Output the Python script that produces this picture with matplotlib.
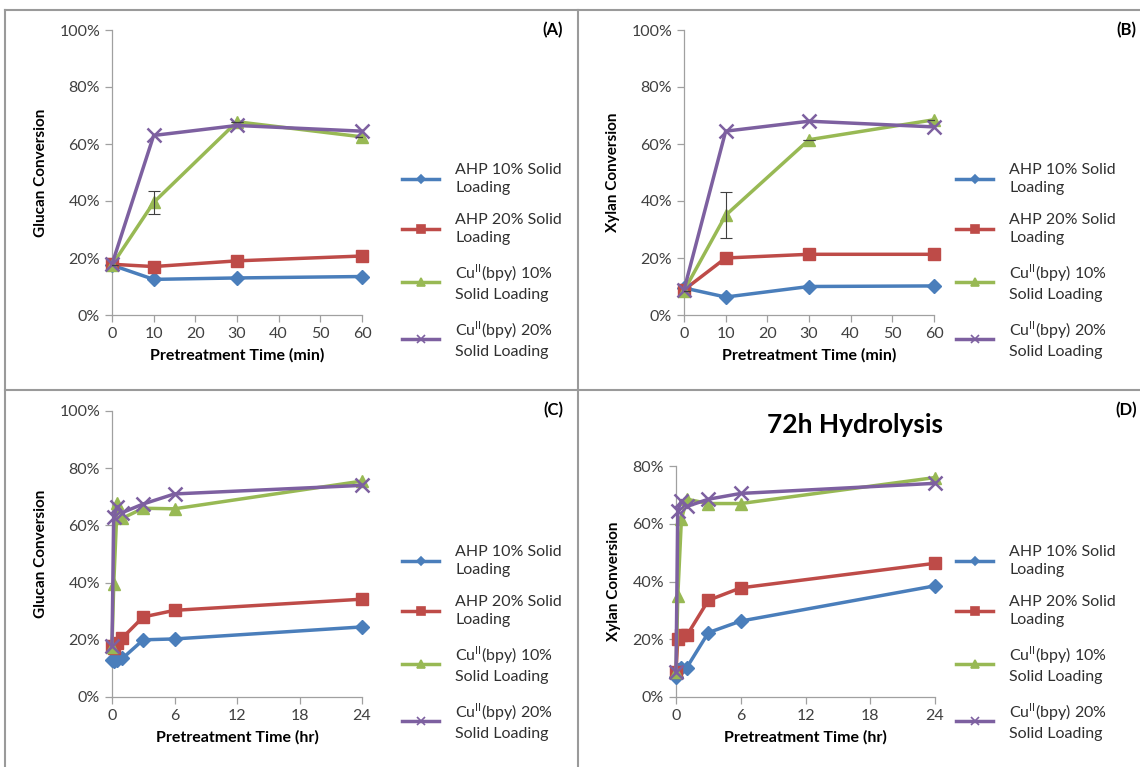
import matplotlib
matplotlib.use("Agg")
import matplotlib.pyplot as plt
from matplotlib.lines import Line2D
from matplotlib.ticker import PercentFormatter

plt.rcParams['font.family'] = ['Lato', 'DejaVu Sans']

# ---------------- data ----------------
t_min = [0, 10, 30, 60]
t_hr = [0, 1/6, 0.5, 1, 3, 6, 24]

series_names = ["AHP 10% Solid\nLoading",
                "AHP 20% Solid\nLoading",
                "Cu$^{\\mathregular{II}}$(bpy) 10%\nSolid Loading",
                "Cu$^{\\mathregular{II}}$(bpy) 20%\nSolid Loading"]

# (A) glucan, min
glucan_min_ahp10 = [17.5, 12.5, 13.0, 13.5]
glucan_min_ahp20 = [17.8, 17.0, 19.0, 20.7]
glucan_min_cu10 = [17.5, 39.5, 67.8, 62.5]
glucan_min_cu20 = [17.8, 63.0, 66.5, 64.5]
glucan_min_cu10_err = [0, 4.0, 0, 0]

# (B) xylan, min
xylan_min_ahp10 = [9.5, 6.3, 10.0, 10.2]
xylan_min_ahp20 = [8.8, 20.0, 21.3, 21.3]
xylan_min_cu10 = [8.5, 35.0, 61.5, 68.5]
xylan_min_cu20 = [8.8, 64.5, 68.0, 66.0]
xylan_min_cu10_err = [0, 8.0, 0, 0]

# (C) glucan, hr
glucan_hr_ahp10 = [13.0, 12.5, 13.0, 13.5, 20.0, 20.3, 24.5]
glucan_hr_ahp20 = [17.8, 17.0, 19.0, 20.7, 28.0, 30.3, 34.2]
glucan_hr_cu10 = [17.5, 39.5, 67.8, 62.5, 66.0, 65.8, 75.5]
glucan_hr_cu20 = [17.8, 63.0, 66.5, 64.5, 67.5, 71.0, 74.0]

# (D) xylan, hr
xylan_hr_ahp10 = [7.0, 9.5, 10.0, 10.2, 22.3, 26.3, 38.5]
xylan_hr_ahp20 = [8.8, 20.0, 21.3, 21.3, 33.5, 37.8, 46.3]
xylan_hr_cu10 = [8.5, 35.0, 61.5, 68.5, 67.0, 67.0, 76.0]
xylan_hr_cu20 = [8.8, 64.5, 68.0, 66.0, 68.5, 70.5, 74.0]

colors = ["#4A7EBB", "#BE4B48", "#98B954", "#7D60A0"]
markers = ["D", "s", "^", "x"]
msizes = [7, 9, 9, 10]

W, H = 1140, 767
fig = plt.figure(figsize=(W/100, H/100), dpi=100)

def ax_at(x0, x1, y_bot, y_top):
    return fig.add_axes([x0/W, (H-y_bot)/H, (x1-x0)/W, (y_bot-y_top)/H])

def style(ax, xlim, xticks, ylim, yticks, ylabel, xlabel):
    ax.set_xlim(*xlim)
    ax.set_ylim(*ylim)
    ax.set_xticks(xticks)
    ax.set_yticks(yticks)
    ax.yaxis.set_major_formatter(PercentFormatter(decimals=0))
    for s in ["top", "right"]:
        ax.spines[s].set_visible(False)
    for s in ["left", "bottom"]:
        ax.spines[s].set_color("#A0A0A0")
        ax.spines[s].set_linewidth(0.9)
    ax.tick_params(axis="both", colors="#A0A0A0", labelcolor="#404040",
                   labelsize=11.5, length=5, width=0.9, direction="out")
    ax.set_ylabel(ylabel, fontsize=11, fontweight="bold", labelpad=8)
    ax.set_xlabel(xlabel, fontsize=11.5, fontweight="bold", labelpad=5)

def plot_series(ax, x, ys, errs=None):
    for i, y in enumerate(ys):
        kw = dict(color=colors[i], marker=markers[i], markersize=msizes[i],
                  linewidth=2.5, clip_on=False, zorder=3 + i)
        if i == 3:
            kw["markeredgewidth"] = 1.8
        ax.plot(x, y, **kw)
    if errs is not None:
        ax.errorbar(x, ys[2], yerr=errs, fmt="none", ecolor="#404040",
                    elinewidth=0.8, capsize=4, capthick=0.8, zorder=10)

def legend_at(ax, x, y):
    handles = []
    for i in range(4):
        handles.append(Line2D([], [], color=colors[i], marker=markers[i],
                              markersize=msizes[i] * 0.6, linewidth=2.5,
                              markeredgewidth=1.2))
    leg = ax.legend(handles, series_names, loc="upper left",
                    bbox_to_anchor=(x/W, (H-y)/H), bbox_transform=fig.transFigure,
                    frameon=False, fontsize=11.5, handlelength=2.3,
                    handletextpad=1.0, labelspacing=1.1, borderaxespad=0)
    for t in leg.get_texts():
        t.set_linespacing(1.35)
        t.set_color("#303030")

# panel A
axA = ax_at(112, 362, 315, 30)
plot_series(axA, t_min, [glucan_min_ahp10, glucan_min_ahp20,
                          glucan_min_cu10, glucan_min_cu20], glucan_min_cu10_err)
style(axA, (0, 60), [0, 10, 20, 30, 40, 50, 60], (0, 100), range(0, 101, 20),
      "Glucan Conversion", "Pretreatment Time (min)")
legend_at(axA, 396, 157)

# panel B
axB = ax_at(684, 934, 315, 30)
plot_series(axB, t_min, [xylan_min_ahp10, xylan_min_ahp20,
                          xylan_min_cu10, xylan_min_cu20], xylan_min_cu10_err)
style(axB, (0, 60), [0, 10, 20, 30, 40, 50, 60], (0, 100), range(0, 101, 20),
      "Xylan Conversion", "Pretreatment Time (min)")
legend_at(axB, 950, 157)

# panel C
axC = ax_at(112, 362, 697, 411)
plot_series(axC, t_hr, [glucan_hr_ahp10, glucan_hr_ahp20,
                         glucan_hr_cu10, glucan_hr_cu20])
style(axC, (0, 24), [0, 6, 12, 18, 24], (0, 100), range(0, 101, 20),
      "Glucan Conversion", "Pretreatment Time (hr)")
legend_at(axC, 396, 539)

# panel D
axD = ax_at(676, 935, 697, 466)
plot_series(axD, t_hr, [xylan_hr_ahp10, xylan_hr_ahp20,
                         xylan_hr_cu10, xylan_hr_cu20])
style(axD, (0, 24), [0, 6, 12, 18, 24], (0, 80), range(0, 81, 20),
      "Xylan Conversion", "Pretreatment Time (hr)")
legend_at(axD, 950, 539)

# panel labels and title
for lbl, x, y in [("(A)", 553, 30), ("(B)", 1126, 30), ("(C)", 553, 410), ("(D)", 1126, 410)]:
    fig.text(x/W, (H-y)/H, lbl, fontsize=12, fontweight="bold", ha="center", va="center")
fig.text(855/W, (H-425)/H, "72h Hydrolysis", fontsize=19, fontweight="bold",
         ha="center", va="center")

# panel borders
bc = "#9A9A9A"
fig.add_artist(Line2D([5/W, 5/W], [0, (H-10)/H], color=bc, lw=1.5))
fig.add_artist(Line2D([5/W, 1], [(H-10)/H, (H-10)/H], color=bc, lw=1.5))
fig.add_artist(Line2D([578/W, 578/W], [0, (H-10)/H], color=bc, lw=1.5))
fig.add_artist(Line2D([5/W, 1], [(H-390)/H, (H-390)/H], color=bc, lw=1.5))

fig.savefig("out.png", dpi=100, facecolor="white")
